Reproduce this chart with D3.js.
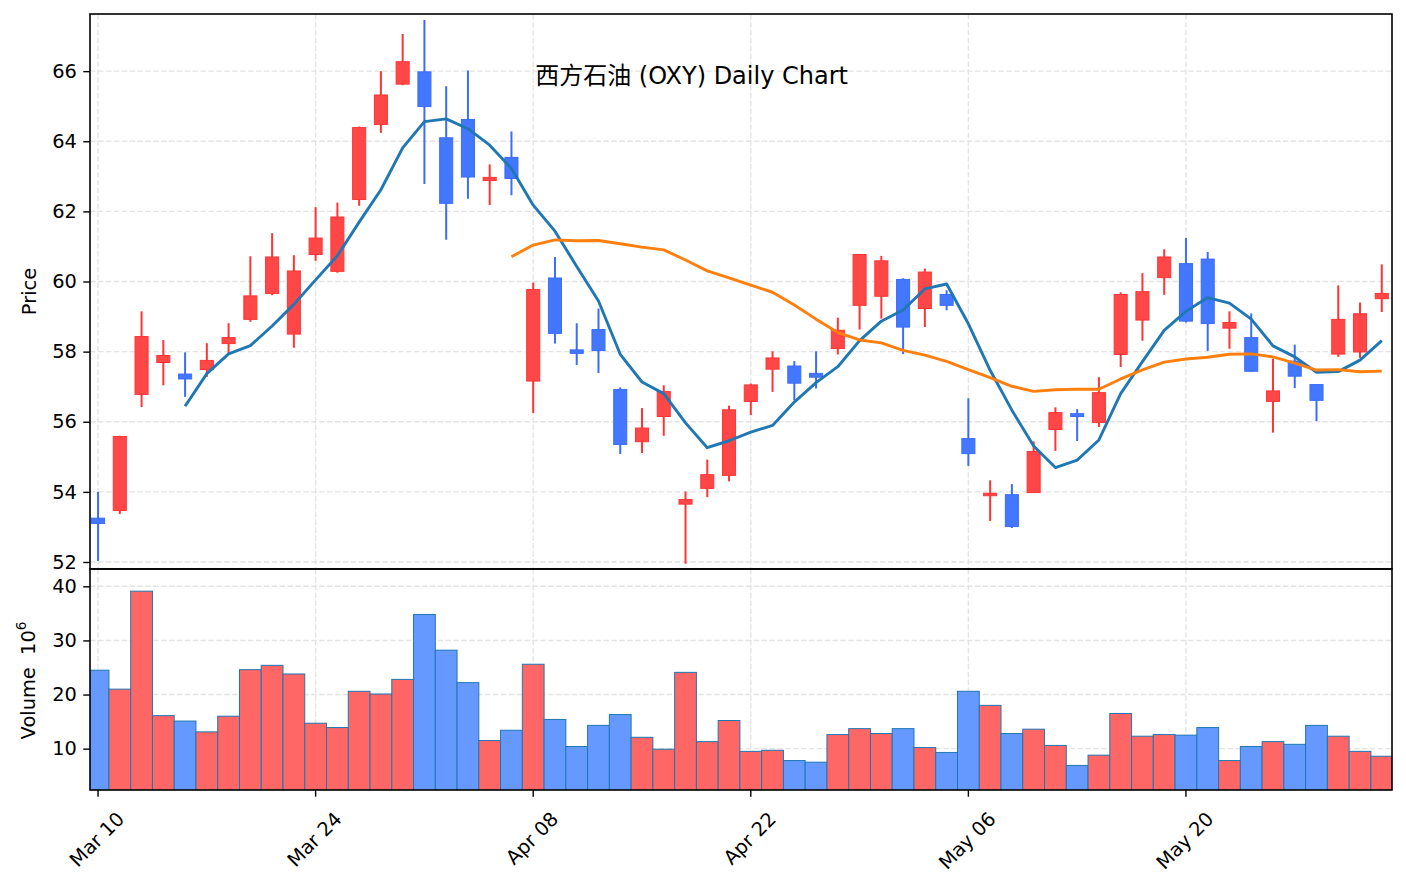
<!DOCTYPE html>
<html>
<head>
<meta charset="utf-8">
<script src="https://cdn.jsdelivr.net/npm/d3@7"></script>
<style>
  body { margin: 0; background: #fff; }
  svg { display: block; }
  text { font-family: "DejaVu Sans", "Noto Sans CJK SC", sans-serif; fill: #000; }
</style>
</head>
<body>
<svg id="chart" width="1406" height="889"></svg>
<script>
// ---------------- DATA ----------------
const titleText = "西方石油 (OXY) Daily Chart";
const dates = [
  "2026-03-10","2026-03-11","2026-03-12","2026-03-13","2026-03-16","2026-03-17","2026-03-18","2026-03-19","2026-03-20","2026-03-23",
  "2026-03-24","2026-03-25","2026-03-26","2026-03-27","2026-03-30","2026-03-31","2026-04-01","2026-04-02","2026-04-06","2026-04-07",
  "2026-04-08","2026-04-09","2026-04-10","2026-04-13","2026-04-14","2026-04-15","2026-04-16","2026-04-17","2026-04-20","2026-04-21",
  "2026-04-22","2026-04-23","2026-04-24","2026-04-27","2026-04-28","2026-04-29","2026-04-30","2026-05-01","2026-05-04","2026-05-05",
  "2026-05-06","2026-05-07","2026-05-08","2026-05-11","2026-05-12","2026-05-13","2026-05-14","2026-05-15","2026-05-18","2026-05-19",
  "2026-05-20","2026-05-21","2026-05-22","2026-05-26","2026-05-27","2026-05-28","2026-05-29","2026-06-01","2026-06-02","2026-06-03"
];
const opens = [
  53.25,53.47,56.78,57.69,57.36,57.49,58.23,58.92,59.66,58.50,
  60.77,60.29,62.34,64.48,65.63,65.98,64.10,64.62,62.88,63.54,
  57.16,60.10,58.05,58.63,56.92,55.43,56.15,53.65,54.10,54.47,
  56.58,57.50,57.59,57.38,58.09,59.32,59.58,60.06,59.23,59.63,
  55.52,53.89,53.92,53.98,55.78,56.23,55.98,57.92,58.90,60.11,
  60.51,60.64,58.67,58.40,56.58,57.73,57.06,57.93,57.99,59.51
];
const highs = [
  54.00,55.60,59.15,58.33,57.98,58.24,58.81,60.72,61.38,60.75,
  62.12,62.25,64.42,66.00,67.06,67.46,65.57,66.02,63.34,64.28,
  59.97,60.70,58.81,59.23,56.98,56.39,57.04,54.01,54.92,56.46,
  57.09,58.01,57.73,58.01,58.97,60.78,60.73,60.09,60.37,59.75,
  56.67,54.33,54.22,55.44,56.41,56.36,57.27,59.69,60.24,60.92,
  61.24,60.84,59.15,59.09,57.80,58.20,57.06,59.89,59.40,60.49
];
const lows = [
  52.03,53.37,56.42,57.04,56.71,57.28,57.95,58.85,59.61,58.11,
  60.59,60.25,62.16,64.24,65.60,62.78,61.19,62.36,62.18,62.46,
  56.25,58.23,57.62,57.39,55.08,55.11,55.60,51.95,53.85,54.30,
  56.19,56.85,56.61,56.95,57.92,58.63,58.94,57.93,58.70,59.18,
  54.74,53.17,52.97,53.97,55.17,55.45,55.85,57.56,58.31,59.62,
  58.83,58.02,58.08,57.42,55.69,56.96,56.02,57.85,57.82,59.13
];
const closes = [
  53.10,55.58,58.43,57.89,57.22,57.75,58.40,59.59,60.70,60.30,
  61.24,61.84,64.39,65.32,66.27,64.99,62.23,62.98,62.97,62.94,
  59.77,58.52,57.95,58.03,55.35,55.82,56.86,53.78,54.49,56.34,
  57.05,57.82,57.10,57.27,58.61,60.77,60.59,58.70,60.27,59.32,
  55.09,53.96,53.01,55.15,56.26,56.15,56.83,59.63,59.71,60.70,
  58.87,58.80,58.83,57.44,56.88,57.30,56.61,58.92,59.08,59.66
];
// volume in millions of shares
const volumes = [
  24.5,21.0,39.1,16.1,15.1,13.1,16.0,24.6,25.4,23.8,
  14.7,13.9,20.6,20.1,22.8,34.8,28.2,22.2,11.5,13.4,
  25.6,15.4,10.4,14.3,16.3,12.1,9.9,24.1,11.3,15.2,
  9.5,9.7,7.8,7.5,12.6,13.7,12.8,13.7,10.2,9.3,
  20.6,18.0,12.8,13.6,10.6,6.9,8.8,16.5,12.3,12.6,
  12.5,13.9,7.8,10.4,11.3,10.8,14.3,12.3,9.5,8.6
];
const priceTicks = [52, 54, 56, 58, 60, 62, 64, 66];
const volumeTicks = [10, 20, 30, 40];
const dateTickIdx = [0, 10, 20, 30, 40, 50];
const maShort = 5, maLong = 20;

// ---------------- LAYOUT ----------------
const L = 90, R = 1392, PT = 14, PB = 569, VT = 569, VB = 790;
const FS = 19.4;
const upFill = "#ff4747", upEdge = "#ff3535";
const dnFill = "#4477ff", dnEdge = "#3a6cff";
const volUp = "#ff6666", volDn = "#6699ff", volEdge = "#1f77b4";
const gridColor = "#e4e4e4";

const svg = d3.select("#chart");
const x = d3.scaleLinear().domain([-0.37, 59.47]).range([L, R]);
const yP = d3.scaleLinear().domain([51.80, 67.63]).range([PB, PT]);
const yV = d3.scaleLinear().domain([2.36, 43.2]).range([VB, VT]);

const rolling = (arr, n) => arr.map((_, i) => i < n - 1 ? null : d3.mean(arr.slice(i - n + 1, i + 1)));
const ma5 = rolling(closes, maShort);
const ma20 = rolling(closes, maLong);
const idx = d3.range(dates.length);
const parse = d3.timeParse("%Y-%m-%d");
const fmt = d3.timeFormat("%b %d");

const defs = svg.append("defs");
defs.append("clipPath").attr("id", "clipP").append("rect").attr("x", L).attr("y", PT).attr("width", R - L).attr("height", PB - PT);
defs.append("clipPath").attr("id", "clipV").append("rect").attr("x", L).attr("y", VT).attr("width", R - L).attr("height", VB - VT);

// ---------- grids ----------
function grid(g, top, bottom, yScale, ticks) {
  g.selectAll("line.h").data(ticks).join("line")
    .attr("x1", L).attr("x2", R).attr("y1", d => yScale(d)).attr("y2", d => yScale(d))
    .attr("stroke", gridColor).attr("stroke-width", 1.4).attr("stroke-dasharray", "5.5,2.4");
  g.selectAll("line.v").data(dateTickIdx).join("line").attr("class", "v")
    .attr("x1", d => x(d)).attr("x2", d => x(d)).attr("y1", top).attr("y2", bottom)
    .attr("stroke", gridColor).attr("stroke-width", 1.4).attr("stroke-dasharray", "5.5,2.4");
}
grid(svg.append("g").attr("clip-path", "url(#clipP)"), PT, PB, yP, priceTicks);
grid(svg.append("g").attr("clip-path", "url(#clipV)"), VT, VB, yV, volumeTicks);

// ---------- candles ----------
const cg = svg.append("g").attr("clip-path", "url(#clipP)");
const up = i => closes[i] >= opens[i];
cg.selectAll("line.wick").data(idx).join("line").attr("class", "wick")
  .attr("x1", i => x(i)).attr("x2", i => x(i))
  .attr("y1", i => yP(highs[i])).attr("y2", i => yP(lows[i]))
  .attr("stroke", i => up(i) ? upEdge : dnEdge).attr("stroke-width", 2);
cg.selectAll("rect.body").data(idx).join("rect").attr("class", "body")
  .attr("x", i => x(i - 0.3)).attr("width", i => x(i + 0.3) - x(i - 0.3))
  .attr("y", i => yP(Math.max(opens[i], closes[i])))
  .attr("height", i => Math.max(2, yP(Math.min(opens[i], closes[i])) - yP(Math.max(opens[i], closes[i]))))
  .attr("fill", i => up(i) ? upFill : dnFill)
  .attr("stroke", i => up(i) ? upEdge : dnEdge).attr("stroke-width", 1);

// ---------- moving averages ----------
const line = d3.line().defined(d => d[1] != null).x(d => x(d[0])).y(d => yP(d[1]));
cg.append("path").datum(ma5.map((v, i) => [i, v])).attr("d", line)
  .attr("fill", "none").attr("stroke", "#1f77b4").attr("stroke-width", 2.9).attr("stroke-linejoin", "round");
cg.append("path").datum(ma20.map((v, i) => [i, v])).attr("d", line)
  .attr("fill", "none").attr("stroke", "#ff7f0e").attr("stroke-width", 2.9).attr("stroke-linejoin", "round");

// ---------- volume ----------
const vg = svg.append("g").attr("clip-path", "url(#clipV)");
vg.selectAll("rect").data(idx).join("rect")
  .attr("x", i => x(i - 0.5)).attr("width", i => x(i + 0.5) - x(i - 0.5))
  .attr("y", i => yV(volumes[i])).attr("height", i => yV.range()[0] - yV(volumes[i]) + 2)
  .attr("fill", i => up(i) ? volUp : volDn)
  .attr("stroke", volEdge).attr("stroke-width", 1);

// ---------- frames ----------
[[PT, PB], [VT, VB]].forEach(([t, b]) => {
  svg.append("rect").attr("x", L).attr("y", t).attr("width", R - L).attr("height", b - t)
    .attr("fill", "none").attr("stroke", "#000").attr("stroke-width", 1.6);
});

// ---------- y axes ----------
function yAxis(scale, ticks) {
  const g = svg.append("g").attr("transform", `translate(${L},0)`)
    .call(d3.axisLeft(scale).tickValues(ticks).tickSize(6.7).tickPadding(6.5).tickFormat(d3.format("d")));
  g.select(".domain").remove();
  g.selectAll(".tick line").attr("stroke", "#000").attr("stroke-width", 1.4);
  g.selectAll(".tick text").attr("font-size", FS).attr("font-family", "DejaVu Sans").attr("fill", "#000");
}
yAxis(yP, priceTicks);
yAxis(yV, volumeTicks);

// ---------- x axis ----------
const xg = svg.append("g");
dateTickIdx.forEach(i => {
  xg.append("line").attr("x1", x(i)).attr("x2", x(i)).attr("y1", VB).attr("y2", VB + 6.7)
    .attr("stroke", "#000").attr("stroke-width", 1.4);
  const t = xg.append("text").text(fmt(parse(dates[i])))
    .attr("font-size", FS).attr("text-anchor", "middle").attr("dominant-baseline", "central");
  const w = t.node().getComputedTextLength();
  const h = FS * 1.16;
  const cy = VB + 6.7 + 11 + (w + h) / (2 * Math.SQRT2);
  t.attr("transform", `translate(${x(i) - 1},${cy}) rotate(-45)`);
});

// ---------- labels ----------
svg.append("text").attr("transform", `translate(36,${(PT + PB) / 2}) rotate(-90)`)
  .attr("text-anchor", "middle").attr("font-size", FS).text("Price");
const vl = svg.append("text").attr("transform", `translate(35,${(VT + VB) / 2 + 1}) rotate(-90)`)
  .attr("text-anchor", "middle").attr("font-size", FS);
vl.append("tspan").text("Volume\u00a0\u00a010");
vl.append("tspan").attr("font-size", FS * 0.7).attr("dy", -FS * 0.45).text("6");

svg.append("text").attr("x", x(20) + 2).attr("y", 83.5).attr("font-size", 24).text(titleText);
</script>
</body>
</html>
